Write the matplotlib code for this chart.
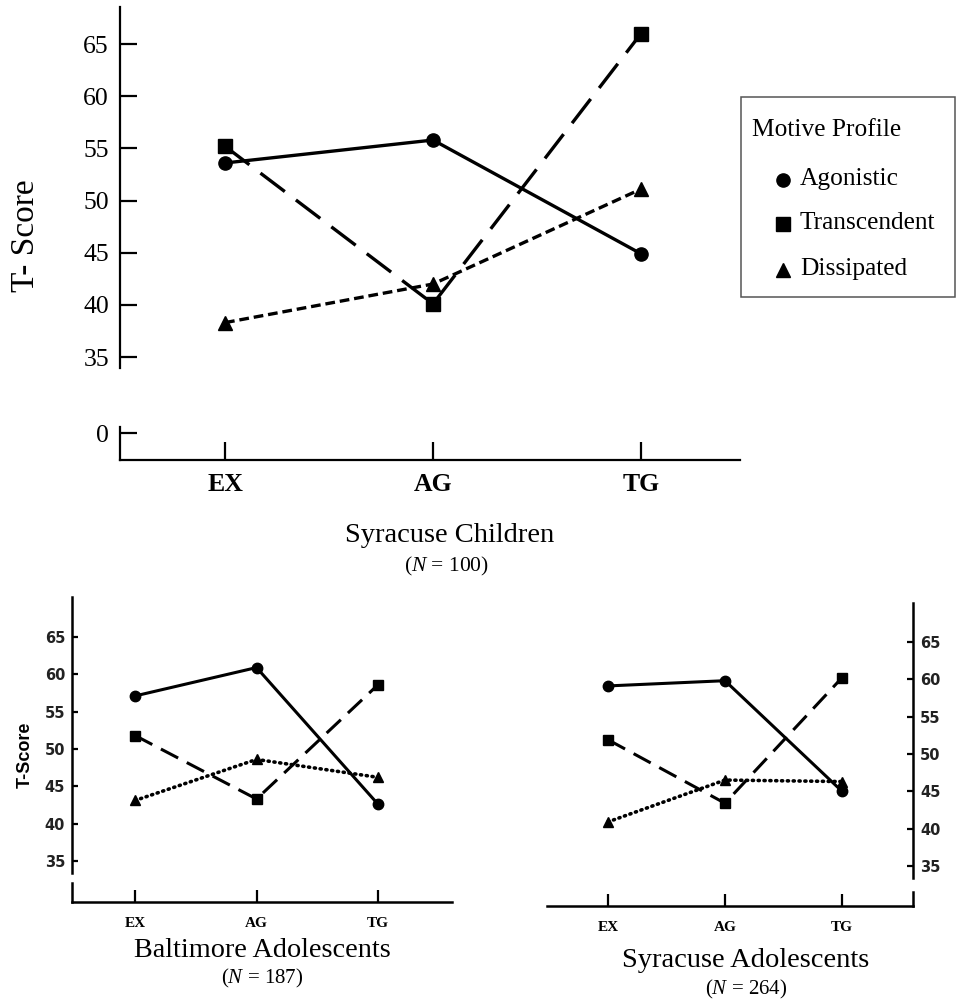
import matplotlib
matplotlib.use("Agg")
from matplotlib import pyplot as plt
from matplotlib.lines import Line2D
from matplotlib.patches import Rectangle

plt.rcParams['lines.scale_dashes'] = False
plt.rcParams['mathtext.fontset'] = 'custom'
plt.rcParams['mathtext.it'] = 'Liberation Serif:italic'
plt.rcParams['mathtext.rm'] = 'Liberation Serif'

W, H = 958, 1005

groups = ["EX", "AG", "TG"]
profiles = ["Agonistic", "Transcendent", "Dissipated"]
profile_markers = ["o", "s", "^"]

# Syracuse Children (N = 100)
children_agon = [53.6, 55.8, 44.9]
children_trans = [55.2, 40.1, 66.0]
children_diss = [38.3, 42.0, 51.1]

# Baltimore Adolescents (N = 187)
balt_agon = [57.1, 60.9, 42.6]
balt_trans = [51.8, 43.3, 58.6]
balt_diss = [43.1, 48.6, 46.2]

# Syracuse Adolescents (N = 264)
syr_agon = [59.1, 59.8, 45.0]
syr_trans = [51.9, 43.4, 60.2]
syr_diss = [40.9, 46.5, 46.3]

yticks = [35, 40, 45, 50, 55, 60, 65]

SERIF = "Liberation Serif"


def px_axes(fig, left, top, right, bottom):
    """axes placed by pixel box (origin top-left)"""
    return fig.add_axes([left / W, 1 - bottom / H, (right - left) / W, (bottom - top) / H])


def fx(x):
    return x / W


def fy(y):
    return 1 - y / H


def draw_series(ax, agon, trans, diss, big):
    x = range(len(groups))
    if big:
        lw, ms = 2.4, 10.5
        ax.plot(x, agon, color="black", lw=lw, marker="o", ms=ms - 1, zorder=3)
        ax.plot(x, trans, color="black", lw=lw, marker="s", ms=ms, dashes=(22, 10), zorder=3)
        ax.plot(x, diss, color="black", lw=lw, marker="^", ms=ms, dashes=(7, 3.5), zorder=3)
    else:
        lw, ms = 2.2, 7.5
        ax.plot(x, agon, color="black", lw=lw, marker="o", ms=ms, zorder=3)
        ax.plot(x, trans, color="black", lw=lw, marker="s", ms=ms, dashes=(14, 7), zorder=3)
        ax.plot(x, diss, color="black", lw=2.6, marker="^", ms=ms, dashes=(0.8, 3.4),
                dash_capstyle="round", zorder=3)


fig = plt.figure(figsize=(W / 100, H / 100), dpi=100)

# ---------------- top chart: Syracuse Children ----------------
top = px_axes(fig, 120, 7, 740, 368)
top.set_xlim(-0.505, 2.476)
top.set_ylim(33.95, 68.55)
draw_series(top, children_agon, children_trans, children_diss, big=True)
for s in ["top", "right", "bottom"]:
    top.spines[s].set_visible(False)
top.spines["left"].set_linewidth(1.6)
top.set_xticks([])
top.set_yticks(yticks)
top.set_yticklabels([str(v) for v in yticks], fontname=SERIF, fontsize=18.5)
top.tick_params(axis="y", direction="in", length=12, width=1.6, pad=8)
top.patch.set_alpha(0)

top0 = px_axes(fig, 120, 427, 740, 460)
top0.set_xlim(-0.505, 2.476)
top0.set_ylim(-27, 6)
for s in ["top", "right"]:
    top0.spines[s].set_visible(False)
top0.spines["left"].set_linewidth(1.6)
top0.spines["bottom"].set_linewidth(1.6)
top0.set_yticks([0])
top0.set_yticklabels(["0"], fontname=SERIF, fontsize=18.5)
top0.tick_params(axis="y", direction="in", length=12, width=1.6, pad=8)
top0.set_xticks(range(len(groups)))
top0.set_xticklabels(groups, fontname=SERIF, fontsize=18.5, fontweight="bold")
top0.tick_params(axis="x", direction="in", length=13, width=1.6, pad=9)
top0.patch.set_alpha(0)

fig.text(fx(26), fy(236), "T- Score", fontname=SERIF, fontsize=24, rotation=90,
         ha="center", va="center")
fig.text(fx(450), fy(535), "Syracuse Children", fontname=SERIF, fontsize=20.5,
         ha="center", va="center")
fig.text(fx(446), fy(566), r"($\it{N}$ = 100)", fontname=SERIF, fontsize=15.5,
         ha="center", va="center")

# legend box
fig.patches.append(Rectangle((fx(741), fy(297)), 214 / W, 200 / H, transform=fig.transFigure,
                             fill=False, edgecolor="#555555", lw=1.1))
fig.text(fx(752), fy(130), "Motive Profile", fontname=SERIF, fontsize=18.3,
         ha="left", va="center")
legend_y = [179, 223, 269]
legend_ms = [9.5, 10.5, 10.5]
for name, m, yy, ms in zip(profiles, profile_markers, legend_y, legend_ms):
    fig.add_artist(Line2D([fx(783)], [fy(yy + 1)], transform=fig.transFigure, color="black",
                          marker=m, ms=ms, ls="none"))
    fig.text(fx(800), fy(yy), name, fontname=SERIF, fontsize=18.3, ha="left", va="center")


# ---------------- bottom charts ----------------
def small_chart(left, right, y_top, y_break, y_low, y_axis, ylim, xlim, side, agon, trans, diss):
    ax = px_axes(fig, left, y_top, right, y_break)
    ax.set_xlim(*xlim)
    ax.set_ylim(*ylim)
    draw_series(ax, agon, trans, diss, big=False)
    for s in ["top", "right", "left", "bottom"]:
        if s != side:
            ax.spines[s].set_visible(False)
    ax.spines[side].set_linewidth(1.8)
    ax.set_xticks([])
    ax.set_yticks(yticks)
    if side == "right":
        ax.yaxis.tick_right()
    ax.set_yticklabels([str(v) for v in yticks], fontname="DejaVu Sans", fontweight="bold",
                       fontsize=10.5, color="#222222")
    ax.tick_params(axis="y", direction="in", length=4.5, width=1.6, pad=5)
    ax.patch.set_alpha(0)

    low = px_axes(fig, left, y_low, right, y_axis)
    low.set_xlim(*xlim)
    low.set_ylim(0, 1)
    low.spines["top"].set_visible(False)
    other = "left" if side == "right" else "right"
    low.spines[other].set_visible(False)
    low.spines[side].set_linewidth(1.8)
    low.spines["bottom"].set_linewidth(1.8)
    low.set_yticks([])
    low.set_xticks(range(len(groups)))
    low.set_xticklabels(groups, fontname=SERIF, fontsize=11, fontweight="bold")
    low.tick_params(axis="x", direction="in", length=9, width=1.6, pad=11)
    low.patch.set_alpha(0)
    return ax


bl = small_chart(72, 452, 597, 873, 883, 902, (33.39, 70.35), (-0.519, 2.609), "left",
                 balt_agon, balt_trans, balt_diss)
fig.text(fx(25), fy(755), "T-Score", fontname="Liberation Sans", fontweight="bold",
         fontsize=13, rotation=90, ha="center", va="center")

br = small_chart(547, 913, 603, 878, 892, 906, (33.39, 70.2), (-0.521, 2.607), "right",
                 syr_agon, syr_trans, syr_diss)

fig.text(fx(262), fy(950), "Baltimore Adolescents", fontname=SERIF, fontsize=20.3,
         ha="center", va="center")
fig.text(fx(262), fy(978), r"($\it{N}$ = 187)", fontname=SERIF, fontsize=15,
         ha="center", va="center")
fig.text(fx(746), fy(960), "Syracuse Adolescents", fontname=SERIF, fontsize=20.5,
         ha="center", va="center")
fig.text(fx(746), fy(989), r"($\it{N}$ = 264)", fontname=SERIF, fontsize=15,
         ha="center", va="center")

fig.savefig("out.png", dpi=100)
